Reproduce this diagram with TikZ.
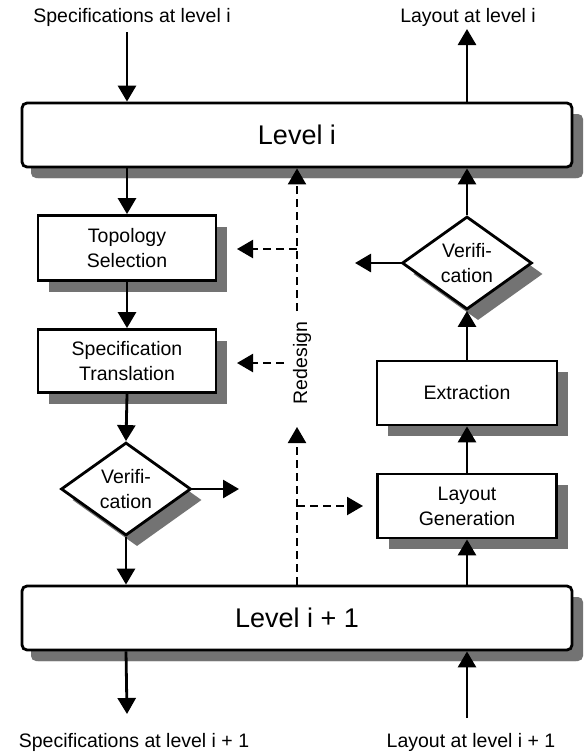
\documentclass[tikz,border=0pt]{standalone}
\usepackage{fontspec}
\setmainfont{Liberation Sans}
\usetikzlibrary{arrows.meta,shapes.geometric,shadows}
\begin{document}
\begin{tikzpicture}[x=1pt,y=-1pt,
  every node/.style={font=\fontsize{19.5}{25}\selectfont},
  shad/.style={drop shadow={shadow xshift=11pt, shadow yshift=-11pt, fill=black!55, opacity=1}},
  box/.style={draw, line width=2.8pt, fill=white, inner sep=0pt, align=center, shad},
  levelbox/.style={box, rounded corners=5pt, minimum width=550pt, minimum height=64pt, font=\fontsize{27}{30}\selectfont, drop shadow={shadow xshift=9pt, shadow yshift=-11pt, fill=black!55, opacity=1}},
  stepbox/.style={box, minimum width=178pt, minimum height=65pt},
  decision/.style={draw, diamond, line width=2.8pt, fill=white, inner sep=0pt, align=center, minimum width=130pt, minimum height=93pt, shad},
  arr/.style={line width=2.8pt, -{Triangle[length=16pt,width=18pt]}},
  darr/.style={line width=2.2pt, dash pattern=on 8pt off 5pt, -{Triangle[length=16pt,width=18pt]}}
]
\useasboundingbox (0,0) rectangle (585,756);
\fill[white] (0,0) rectangle (585,756);

% level boxes
\node[levelbox] (L1) at (297,135) {Level i};
\node[levelbox] (L2) at (297,618) {Level i + 1};

% left column
\node[stepbox] (TS) at (127,248) {Topology\\Selection};
\node[stepbox, minimum height=63pt] (ST) at (127,361) {Specification\\Translation};
\node[decision] (V1) at (126,489) {Verifi-\\cation};

% right column
\node[decision] (V2) at (467,263) {Verifi-\\cation};
\node[stepbox, minimum width=180pt, minimum height=64pt] (EX) at (467,393) {Extraction};
\node[stepbox, minimum width=179pt, minimum height=64pt] (LG) at (467,506) {Layout\\Generation};

% outer texts
\node (tSpec) at (132,17) {Specifications at level i};
\node (tLay) at (468,17) {Layout at level i};
\node (bSpec) at (134,742) {Specifications at level i + 1};
\node (bLay) at (471,742) {Layout at level i + 1};

% free ends
\coordinate (inTop) at (127,32);
\coordinate (outTop) at (467,29);
\coordinate (outBot) at (127,714);
\coordinate (inBot) at (467,718);
\coordinate (v1out) at (239,489);
\coordinate (v2out) at (355,263);

% solid arrows, left
\draw[arr] (inTop) -- (inTop |- L1.north);
\draw[arr] (TS.north |- L1.south) -- (TS.north);
\draw[arr] (TS.south) -- (ST.north);
\draw[arr] (ST.south) -- (V1.north);
\draw[arr] (V1.south) -- (V1.south |- L2.north);
\draw[arr] (V1.south |- L2.south) -- (outBot);
\draw[arr] (V1.east) -- (v1out);

% solid arrows, right
\draw[arr] (inBot) -- (inBot |- L2.south);
\draw[arr] (LG.south |- L2.north) -- (LG.south);
\draw[arr] (LG.north) -- (EX.south);
\draw[arr] (EX.north) -- (V2.south);
\draw[arr] (V2.north) -- (V2.north |- L1.south);
\draw[arr] (V2.north |- L1.north) -- (outTop);
\draw[arr] (V2.west) -- (v2out);

% redesign (dashed)
\coordinate (rdA) at (297,311);
\coordinate (j1) at (297,249);
\coordinate (tsT) at (237,249);
\coordinate (stS) at (284,363);
\coordinate (stT) at (237,363);
\coordinate (rdT) at (297,427);
\coordinate (j2) at (297,506);
\coordinate (lgT) at (363,506);
\node[rotate=90] (RD) at (302,363) {Redesign};
\draw[darr] (rdA) -- (rdA |- L1.south);
\draw[darr] (j1) -- (tsT);
\draw[darr] (stS) -- (stT);
\draw[darr] (rdT |- L2.north) -- (rdT);
\draw[darr] (j2) -- (lgT);
\end{tikzpicture}
\end{document}
